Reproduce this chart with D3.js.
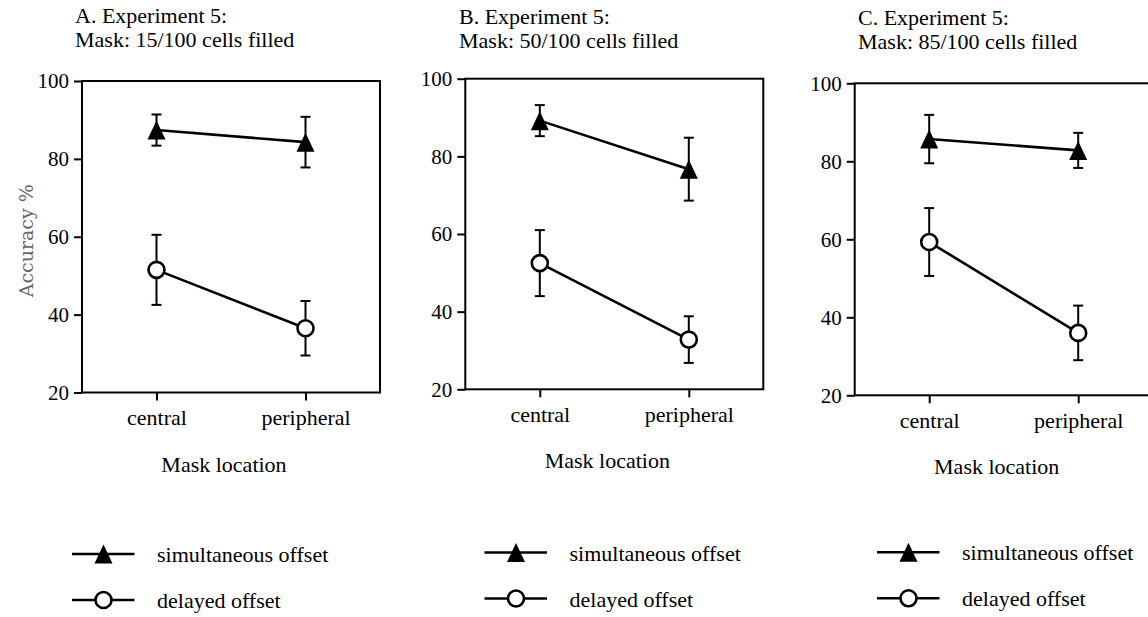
<!DOCTYPE html>
<html>
<head>
<meta charset="utf-8">
<script src="https://cdn.jsdelivr.net/npm/d3@7"></script>
<style>
  body { margin: 0; background: #fff; }
  svg { display: block; }
  .tick text { font-family: "Liberation Serif", "Times New Roman", serif; font-size: 21px; fill: #000; }
  .lbl { font-family: "Liberation Serif", "Times New Roman", serif; font-size: 22px; fill: #000; }
</style>
</head>
<body>
<div id="wrapper"></div>
<script>
// data
const locations = ["central", "peripheral"]
const panelTitles = ["A. Experiment 5:", "B. Experiment 5:", "C. Experiment 5:"]
const maskLabels = ["Mask: 15/100 cells filled", "Mask: 50/100 cells filled", "Mask: 85/100 cells filled"]
const seriesNames = ["simultaneous offset", "delayed offset"]
const yTicks = [20, 40, 60, 80, 100]

const simultaneousMean = [[87.4, 84.3], [89.2, 76.7], [85.7, 82.8]]
const simultaneousErr = [[4.0, 6.5], [4.0, 8.1], [6.2, 4.5]]
const delayedMean = [[51.5, 36.5], [52.5, 32.8], [59.3, 36.0]]
const delayedErr = [[9.0, 7.0], [8.5, 6.0], [8.7, 7.0]]

// panel layout (pixels)
const panels = [
  { left: 82, top: 81, bottom: 392.5, titleX: 75, titleY: 23, legendX: 72, legendY: 554, yLabel: "Accuracy %" },
  { left: 465.3, top: 78.7, bottom: 389.3, titleX: 459, titleY: 24, legendX: 484.5, legendY: 552.5 },
  { left: 854.7, top: 83.3, bottom: 395.3, titleX: 858, titleY: 25, legendX: 877, legendY: 552.3 },
]
const frameWidth = 298

const svg = d3.select("#wrapper")
  .append("svg")
  .attr("width", 1148)
  .attr("height", 617)

const triPath = "M0,-9.5L9,9.5L-9,9.5Z"

panels.forEach((p, i) => {
  const g = svg.append("g").attr("transform", `translate(${p.left},${p.top})`)
  const h = p.bottom - p.top

  const xScale = d3.scalePoint().domain(locations).range([0, frameWidth]).padding(0.5)
  const yScale = d3.scaleLinear().domain([20, 100]).range([h, 0])

  // titles
  svg.append("text").attr("class", "lbl").attr("x", p.titleX).attr("y", p.titleY).text(panelTitles[i])
  svg.append("text").attr("class", "lbl").attr("x", p.titleX).attr("y", p.titleY + 23.5).text(maskLabels[i])

  // axes
  const yAxis = g.append("g")
    .call(d3.axisLeft(yScale).tickValues(yTicks).tickSize(8).tickPadding(5))
  yAxis.select(".domain").remove()
  yAxis.selectAll(".tick line").attr("stroke", "#000").attr("stroke-width", 2)

  const xAxis = g.append("g")
    .attr("transform", `translate(0,${h})`)
    .call(d3.axisBottom(xScale).tickSize(8).tickPadding(9))
  xAxis.select(".domain").remove()
  xAxis.selectAll(".tick line").attr("stroke", "#000").attr("stroke-width", 2)
  xAxis.selectAll(".tick text").style("font-size", "22px")

  // frame
  g.append("rect")
    .attr("width", frameWidth).attr("height", h)
    .attr("fill", "none").attr("stroke", "#000").attr("stroke-width", 2)

  g.append("text").attr("class", "lbl")
    .attr("x", frameWidth / 2 - 7).attr("y", h + 79)
    .attr("text-anchor", "middle")
    .text("Mask location")

  if (p.yLabel) {
    svg.append("text")
      .attr("transform", `translate(33,${(p.top + p.bottom) / 2 + 4}) rotate(-90)`)
      .attr("text-anchor", "middle")
      .style("font-family", "'DejaVu Serif', serif")
      .style("font-size", "19px")
      .attr("fill", "#666")
      .text(p.yLabel)
  }

  const series = [
    { mean: simultaneousMean[i], err: simultaneousErr[i], marker: "tri" },
    { mean: delayedMean[i], err: delayedErr[i], marker: "circle" },
  ]

  series.forEach(s => {
    const pts = locations.map((loc, j) => ({ loc, m: s.mean[j], e: s.err[j] }))

    // error bars
    const eb = g.selectAll(null).data(pts).enter().append("g")
      .attr("stroke", "#000").attr("stroke-width", 2)
    eb.append("line")
      .attr("x1", d => xScale(d.loc)).attr("x2", d => xScale(d.loc))
      .attr("y1", d => yScale(d.m + d.e)).attr("y2", d => yScale(d.m - d.e))
    eb.append("line")
      .attr("x1", d => xScale(d.loc) - 5).attr("x2", d => xScale(d.loc) + 5)
      .attr("y1", d => yScale(d.m + d.e)).attr("y2", d => yScale(d.m + d.e))
    eb.append("line")
      .attr("x1", d => xScale(d.loc) - 5).attr("x2", d => xScale(d.loc) + 5)
      .attr("y1", d => yScale(d.m - d.e)).attr("y2", d => yScale(d.m - d.e))

    // connecting line
    g.append("path")
      .datum(pts)
      .attr("fill", "none").attr("stroke", "#000").attr("stroke-width", 2.6)
      .attr("d", d3.line().x(d => xScale(d.loc)).y(d => yScale(d.m)))

    // markers
    if (s.marker === "tri") {
      g.selectAll(null).data(pts).enter().append("path")
        .attr("d", triPath).attr("fill", "#000")
        .attr("transform", d => `translate(${xScale(d.loc)},${yScale(d.m)})`)
    } else {
      g.selectAll(null).data(pts).enter().append("circle")
        .attr("cx", d => xScale(d.loc)).attr("cy", d => yScale(d.m)).attr("r", 8)
        .attr("fill", "#fff").attr("stroke", "#000").attr("stroke-width", 2.6)
    }
  })

  // legend
  const lg = svg.append("g").attr("transform", `translate(${p.legendX},${p.legendY})`)
  seriesNames.forEach((name, k) => {
    const row = lg.append("g").attr("transform", `translate(0,${k * 46})`)
    row.append("line").attr("x1", 0).attr("x2", 62.5).attr("stroke", "#000").attr("stroke-width", 2.6)
    if (k === 0) {
      row.append("path").attr("d", triPath).attr("fill", "#000").attr("transform", "translate(31.5,0)")
    } else {
      row.append("circle").attr("cx", 31.5).attr("r", 8).attr("fill", "#fff").attr("stroke", "#000").attr("stroke-width", 2.6)
    }
    row.append("text").attr("class", "lbl").attr("x", 85).attr("y", 8).text(name)
  })
})
</script>
</body>
</html>
